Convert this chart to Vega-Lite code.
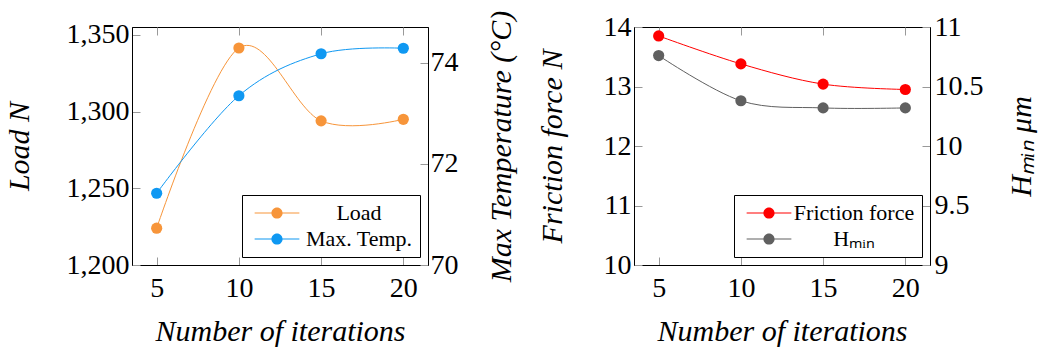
{
  "$schema": "https://vega.github.io/schema/vega-lite/v6.json",
  "padding": {"left": 3, "top": 9, "right": 5, "bottom": 5},
  "spacing": 19,
  "resolve": {"scale": {"color": "independent"}, "legend": {"color": "independent"}},
  "config": {
    "font": "Liberation Serif",
    "view": {"stroke": "black", "strokeWidth": 1},
    "axis": {
      "grid": false,
      "domainColor": "black",
      "domainWidth": 1,
      "tickColor": "#999999",
      "tickSize": -8,
      "tickWidth": 1,
      "labelFontSize": 28,
      "labelColor": "black",
      "labelPadding": 11,
      "titleFontSize": 30,
      "titleFontStyle": "italic",
      "titleFontWeight": "normal",
      "titleColor": "black",
      "titlePadding": 14
    },
    "axisBottom": {"labelPadding": 17, "titlePadding": 14},
    "legend": {
      "orient": "bottom-right",
      "offset": 8,
      "strokeColor": "black",
      "fillColor": "white",
      "padding": 7,
      "labelFontSize": 22,
      "labelColor": "black",
      "rowPadding": 4
    }
  },
  "hconcat": [
    {
      "width": 296,
      "height": 238,
      "layer": [
        {
          "layer": [
            {
              "mark": {"type": "line", "interpolate": "cardinal", "strokeWidth": 1, "color": "#F7953A"},
              "encoding": {}
            },
            {
              "mark": {"type": "circle", "size": 125, "opacity": 1},
              "encoding": {
                "color": {
                  "field": "series", "type": "nominal",
                  "scale": {"domain": ["Load", "Max. Temp."], "range": ["#F7953A", "#0F98F2"]},
                  "legend": {"title": null, "symbolType": "M-4,-0.09H4V0.09H-4ZM-1,0A1,1 0 1,1 1,0A1,1 0 1,1 -1,0Z", "symbolSize": 125, "symbolStrokeWidth": 0, "symbolOpacity": 1, "labelAlign": "center", "labelOffset": 71, "symbolOffset": 17}
                }
              }
            }
          ],
          "data": {"values": [
            {"series": "Load", "iter": 5, "value": 1224},
            {"series": "Load", "iter": 10, "value": 1341.5},
            {"series": "Load", "iter": 15, "value": 1294},
            {"series": "Load", "iter": 20, "value": 1295}
          ]},
          "encoding": {
            "x": {"field": "iter", "type": "quantitative", "scale": {"domain": [3.5, 21.5], "nice": false, "zero": false}, "axis": {"orient": "bottom", "values": [5, 10, 15, 20], "title": "Number of iterations"}},
            "y": {"field": "value", "type": "quantitative", "scale": {"domain": [1200, 1355.2], "nice": false, "zero": false}, "axis": {"orient": "left", "values": [1200, 1250, 1300, 1350], "labelExpr": "format(datum.value, ',')", "title": "Load N", "titlePadding": 32}}
          }
        },
        {
          "layer": [
            {
              "mark": {"type": "line", "interpolate": "cardinal", "strokeWidth": 1, "color": "#0F98F2"},
              "encoding": {}
            },
            {
              "mark": {"type": "circle", "size": 125, "opacity": 1},
              "encoding": {
                "color": {
                  "field": "series", "type": "nominal",
                  "scale": {"domain": ["Load", "Max. Temp."], "range": ["#F7953A", "#0F98F2"]},
                  "legend": {"title": null, "symbolType": "M-4,-0.09H4V0.09H-4ZM-1,0A1,1 0 1,1 1,0A1,1 0 1,1 -1,0Z", "symbolSize": 125, "symbolStrokeWidth": 0, "symbolOpacity": 1, "labelAlign": "center", "labelOffset": 71, "symbolOffset": 17}
                }
              }
            }
          ],
          "data": {"values": [
            {"series": "Max. Temp.", "iter": 5, "value": 71.42},
            {"series": "Max. Temp.", "iter": 10, "value": 73.35},
            {"series": "Max. Temp.", "iter": 15, "value": 74.18},
            {"series": "Max. Temp.", "iter": 20, "value": 74.29}
          ]},
          "encoding": {
            "x": {"field": "iter", "type": "quantitative", "axis": {"orient": "top", "values": [5, 10, 15, 20], "labels": false, "domain": false, "title": null}},
            "y": {"field": "value", "type": "quantitative", "scale": {"domain": [70, 74.71], "nice": false, "zero": false}, "axis": {"orient": "right", "values": [70, 72, 74], "labelPadding": 10, "labelExpr": "'' + datum.value", "title": "Max Temperature (°C)", "titleAngle": 270, "titleBaseline": "top", "titlePadding": 28}}
          }
        }
      ],
      "resolve": {"scale": {"y": "independent"}, "axis": {"x": "independent", "y": "independent"}}
    },
    {
      "width": 296,
      "height": 238,
      "layer": [
        {
          "layer": [
            {
              "mark": {"type": "line", "interpolate": "cardinal", "strokeWidth": 1, "color": "#FF0000"},
              "encoding": {}
            },
            {
              "mark": {"type": "circle", "size": 125, "opacity": 1},
              "encoding": {
                "color": {
                  "field": "series", "type": "nominal",
                  "scale": {"domain": ["Friction force", "Hₘᵢₙ"], "range": ["#FF0000", "#606060"]},
                  "legend": {"title": null, "symbolType": "M-4,-0.09H4V0.09H-4ZM-1,0A1,1 0 1,1 1,0A1,1 0 1,1 -1,0Z", "symbolSize": 125, "symbolStrokeWidth": 0, "symbolOpacity": 1, "labelAlign": "center", "labelOffset": 74, "symbolOffset": 17}
                }
              }
            }
          ],
          "data": {"values": [
            {"series": "Friction force", "iter": 5, "value": 13.85},
            {"series": "Friction force", "iter": 10, "value": 13.38},
            {"series": "Friction force", "iter": 15, "value": 13.04},
            {"series": "Friction force", "iter": 20, "value": 12.95}
          ]},
          "encoding": {
            "x": {"field": "iter", "type": "quantitative", "scale": {"domain": [3.5, 21.5], "nice": false, "zero": false}, "axis": {"orient": "bottom", "values": [5, 10, 15, 20], "title": "Number of iterations"}},
            "y": {"field": "value", "type": "quantitative", "scale": {"domain": [10, 14], "nice": false, "zero": false}, "axis": {"orient": "left", "values": [10, 11, 12, 13, 14], "title": "Friction force N", "titlePadding": 36}}
          }
        },
        {
          "layer": [
            {
              "mark": {"type": "line", "interpolate": "cardinal", "strokeWidth": 1, "color": "#606060"},
              "encoding": {}
            },
            {
              "mark": {"type": "circle", "size": 125, "opacity": 1},
              "encoding": {
                "color": {
                  "field": "series", "type": "nominal",
                  "scale": {"domain": ["Friction force", "Hₘᵢₙ"], "range": ["#FF0000", "#606060"]},
                  "legend": {"title": null, "symbolType": "M-4,-0.09H4V0.09H-4ZM-1,0A1,1 0 1,1 1,0A1,1 0 1,1 -1,0Z", "symbolSize": 125, "symbolStrokeWidth": 0, "symbolOpacity": 1, "labelAlign": "center", "labelOffset": 74, "symbolOffset": 17}
                }
              }
            }
          ],
          "data": {"values": [
            {"series": "Hₘᵢₙ", "iter": 5, "value": 10.76},
            {"series": "Hₘᵢₙ", "iter": 10, "value": 10.38},
            {"series": "Hₘᵢₙ", "iter": 15, "value": 10.32},
            {"series": "Hₘᵢₙ", "iter": 20, "value": 10.32}
          ]},
          "encoding": {
            "x": {"field": "iter", "type": "quantitative", "axis": {"orient": "top", "values": [5, 10, 15, 20], "labels": false, "domain": false, "title": null}},
            "y": {"field": "value", "type": "quantitative", "scale": {"domain": [9, 11], "nice": false, "zero": false}, "axis": {"orient": "right", "values": [9, 9.5, 10, 10.5, 11], "labelPadding": 12, "labelExpr": "'' + datum.value", "title": "Hₘᵢₙ μm", "titleAngle": 270, "titleBaseline": "top", "titlePadding": 23}}
          }
        }
      ],
      "resolve": {"scale": {"y": "independent"}, "axis": {"x": "independent", "y": "independent"}}
    }
  ]
}
